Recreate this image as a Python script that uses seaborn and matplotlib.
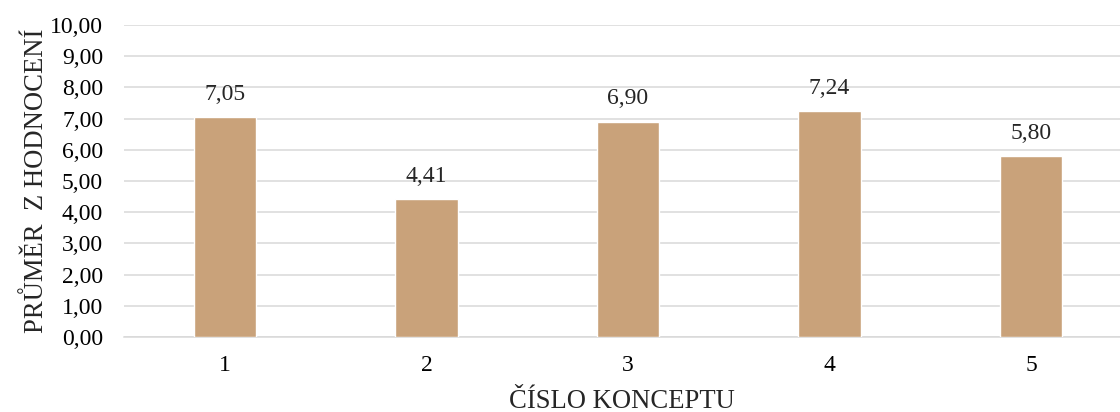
import matplotlib
matplotlib.use("Agg")
import matplotlib.pyplot as plt
import seaborn as sns
import pandas as pd
from matplotlib.ticker import FuncFormatter

# Average rating per concept
concepts = ["1", "2", "3", "4", "5"]
averages = [7.05, 4.41, 6.90, 7.24, 5.80]
y_ticks = [0, 1, 2, 3, 4, 5, 6, 7, 8, 9, 10]

df = pd.DataFrame({"koncept": concepts, "prumer": averages})

sns.set_style("white")
plt.rcParams["font.family"] = ["Liberation Serif", "DejaVu Serif"]

TICK_SIZE = 17
TITLE_SIZE = 19.2

fig = plt.figure(figsize=(11.2, 4.12), dpi=100)
ax = fig.add_axes([124 / 1120, 75 / 412, 1 - 124 / 1120, 312 / 412])

sns.barplot(data=df, x="koncept", y="prumer", color="#C9A27A",
            width=0.31, saturation=1, ax=ax, zorder=3)

def cz(v, _=None):
    return f"{v:.2f}".replace(".", ",")

ax.set_ylim(0, 10)
ax.set_yticks(y_ticks)
ax.yaxis.set_major_formatter(FuncFormatter(cz))
ax.set_xlim(-0.5, 4.5 - 12 / 201.6)

ax.grid(axis="y", color="#D9D9D9", linewidth=1.1, zorder=0)
ax.set_axisbelow(True)
for s in ["top", "right", "left"]:
    ax.spines[s].set_visible(False)
ax.spines["bottom"].set_color("#D9D9D9")
ax.spines["bottom"].set_linewidth(1.1)

ax.tick_params(axis="both", length=0, labelsize=TICK_SIZE, colors="black")
ax.tick_params(axis="y", pad=15)
ax.tick_params(axis="x", pad=13)

ax.bar_label(ax.containers[0], labels=[cz(v) for v in averages],
             padding=9, fontsize=TICK_SIZE)

ax.set_xlabel("ČÍSLO KONCEPTU", fontsize=TITLE_SIZE, labelpad=9.5)
ax.set_ylabel("PRŮMĚR  Z HODNOCENÍ", fontsize=TITLE_SIZE, labelpad=0.5)

fig.savefig("out.png", dpi=100)
